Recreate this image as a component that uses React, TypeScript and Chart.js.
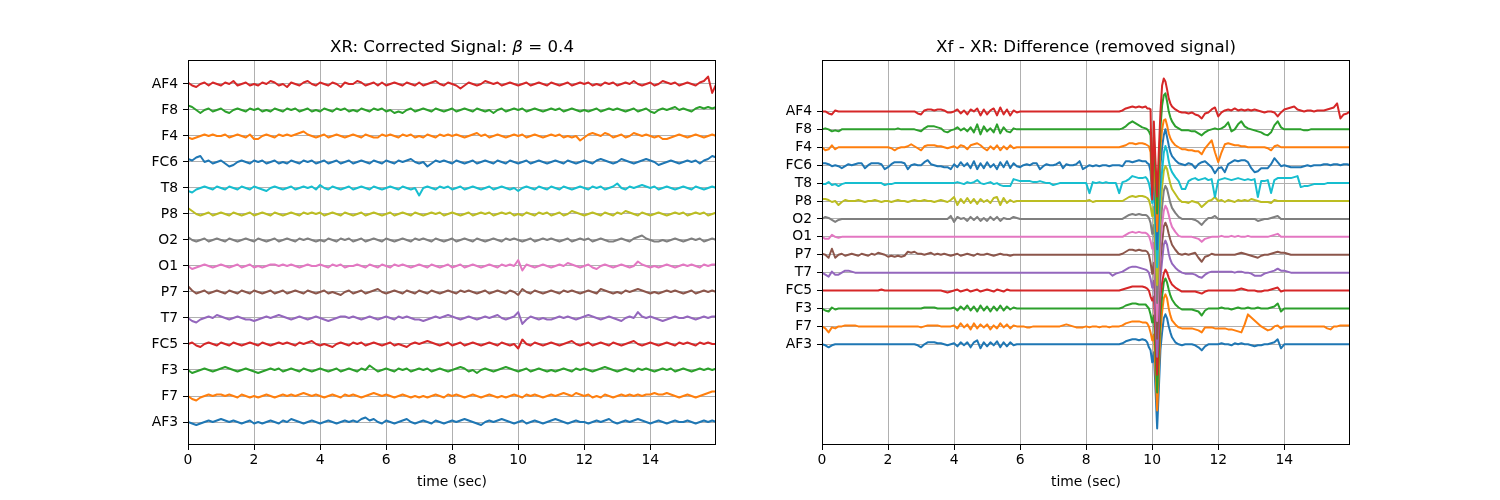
import React, { useEffect, useRef } from 'react';
import { Chart, registerables } from 'chart.js';

Chart.register(...registerables);

const FONT = '"DejaVu Sans"';
const CHANNELS = ['AF3', 'F7', 'F3', 'FC5', 'T7', 'P7', 'O1', 'O2', 'P8', 'T8', 'FC6', 'F4', 'F8', 'AF4'];
const COLORS = ['#1f77b4', '#ff7f0e', '#2ca02c', '#d62728', '#9467bd', '#8c564b', '#e377c2', '#7f7f7f', '#bcbd22', '#17becf', '#1f77b4', '#ff7f0e', '#2ca02c', '#d62728'];
const X_TICKS = [0, 2, 4, 6, 8, 10, 12, 14];
const X_LABEL = 'time (sec)';
const LEFT_TITLE = [
  { text: 'XR: Corrected Signal: ', italic: false },
  { text: 'β', italic: true },
  { text: ' = 0.4', italic: false },
];
const RIGHT_TITLE = [{ text: 'Xf - XR: Difference (removed signal)', italic: false }];

// ---------- Left panel: corrected signal, one sample every 0.125 s ----------
const LEFT_STEP = 0.125;
const L_AF3 = [
  0, -1, -2, -1, 0, 1, 0, 1,
  2, 1, 0, 1, 0, -1, 0, 1,
  -1, 0, -1, 0, 1, 0, -1, 1,
  0, 2, 1, 0, -1, 0, 1, 0,
  -1, 0, 1, 0, -1, 0, 1, 0,
  1, 0, 2, 3, 1, 2, 0, -1,
  1, 0, -1, 0, 1, 2, 0, -1,
  0, 1, 0, -1, 1, 0, -1, 0,
  1, 0, 1, 2, 1, 0, -1, -2,
  0, 1, 0, 1, 2, 1, 0, -1,
  0, 1, -1, 0, 1, 0, -1, 0,
  1, 2, 1, 0, -1, 0, 1, 0,
  0, -1, 0, 1, 0, 1, 2, 0,
  -1, 0, 1, 0, 1, 2, 1, 0,
  -1, 0, 1, 0, -1, 0, 1, 0,
  0, 1, 0, -1, 0, 1, 0, 1,
  0,
];
const L_F7 = [
  0, -2, -3, -1, 0, 1, 0, 1,
  1, 0, 1, 0, -1, 1, 0, -1,
  0, -1, 0, 1, 0, -1, 0, 1,
  0, 1, 0, 1, 2, 1, 0, 1,
  0, -1, 0, 1, 0, -1, 1, 0,
  1, 0, -1, 0, 1, 2, 1, 0,
  1, 0, -1, 0, 1, 0, -1, 0,
  -1, 0, -1, 0, 1, 0, -1, 1,
  0, 1, 0, -1, 0, 1, 0, -1,
  0, 1, 0, -1, 0, -1, 0, 1,
  0, -1, 1, 0, 1, 0, -1, 0,
  1, 0, 1, 2, 1, 0, 2, 1,
  0, 1, -1, 0, -1, 1, 0, -1,
  0, 1, 0, 1, 0, 1, 0, 1,
  1, 2, 1, 1, 2, 1, 0, -1,
  0, 1, 0, -1, 0, 1, 2, 3,
  3,
];
const L_F3 = [
  0, -2, -1, 0, 1, 0, -1, 0,
  1, 2, 1, 0, -1, 0, 1, 0,
  -1, -2, -1, 0, 1, 0, 1, -1,
  0, 1, 0, -1, 1, 0, -1, 0,
  1, 0, -1, 0, 1, -1, 0, 1,
  0, -1, 1, 0, 3, 1, -1, 0,
  1, 0, -1, 1, 0, 1, -1, 0,
  1, 0, 1, -1, 0, 1, 0, -1,
  0, 1, 2, 1, -1, 0, -2, 0,
  1, 0, -1, 0, 1, 2, 1, 0,
  -1, 0, 1, -1, 0, 1, 0, -1,
  0, -1, 0, 1, 0, -1, 1, 0,
  1, 0, -1, 0, 1, 2, 1, 0,
  -1, 0, 1, 0, -1, 1, 0, 1,
  0, -1, 0, 1, 0, 1, -1, 0,
  1, 0, -1, 0, 1, 0, 1, 0,
  1,
];
const L_FC5 = [
  0, 1, -1, -2, 0, 1, 0, -1,
  1, 0, -1, 1, 0, -1, 0, 1,
  0, -1, 1, 0, -1, 0, 1, 0,
  1, 0, -1, 1, 0, 1, 2, 0,
  -1, 0, -1, -2, 0, 1, 0, -1,
  1, 0, 1, -1, 0, 1, 0, -1,
  0, 1, -1, 0, -1, -2, 0, 1,
  0, 1, 2, 1, 0, -1, 0, 1,
  -1, 0, 1, -1, 0, 1, 0, -1,
  0, 1, 0, -1, 1, 0, -1, 0,
  -3, 3, 0, -1, 1, 0, -1, 0,
  1, 0, -1, 0, 1, 2, 0, -1,
  0, 1, -1, 0, 1, 0, -1, 1,
  0, -1, 0, 1, 2, 0, -1, 0,
  1, 0, -1, 0, 1, 0, -1, 1,
  0, 1, 0, -1, 1, 0, 1, 0,
  0,
];
const L_T7 = [
  0, -2, -3, -1, 0, 1, 0, 2,
  1, 0, -1, 0, 1, 0, -1, -1,
  -2, -1, 0, 1, 0, 1, 2, 1,
  0, -1, 0, 1, 0, -1, 0, 1,
  0, -1, -2, -1, 0, 1, 1, 0,
  1, 0, -1, 0, 1, 0, -1, 0,
  1, 0, -1, 1, 0, 1, 0, -1,
  -1, -2, -1, 0, 1, 0, 1, 2,
  1, 0, -1, 0, 1, 0, -1, 0,
  1, 0, 1, 2, 0, -1, 0, 1,
  4, -4, -1, 1, 0, -1, 0, -1,
  -1, 0, 1, 0, 1, 0, -1, 0,
  1, 2, 1, 0, -1, 0, 1, 0,
  -1, -2, 0, 1, 0, 4, 1, 0,
  1, 0, -1, -2, -1, 0, 1, 0,
  0, 1, 0, -1, 0, 1, 0, 1,
  1,
];
const L_P7 = [
  4, 1, -1, 0, 1, -1, 0, 1,
  0, -1, 1, 0, -1, 1, 0, -1,
  1, 0, -1, 0, 1, -1, 0, 1,
  -1, 0, 1, 0, -1, 1, 0, -1,
  0, 1, -1, 0, -1, -2, 0, 1,
  -1, 0, 1, -1, 0, 1, 2, 0,
  -1, 0, 1, 0, -1, 1, 0, -1,
  1, 0, -1, 1, 0, -1, 0, 1,
  0, -1, 1, 0, 1, 0, -1, 0,
  1, -1, 0, 1, 0, -1, 1, 0,
  -2, 2, 0, -1, 1, 0, -1, 0,
  1, 0, -1, 1, 0, 1, 0, -1,
  0, 1, 0, -1, 2, 1, 0, -1,
  0, -1, 1, 0, 1, 2, 1, 0,
  -1, 0, -1, 0, 1, 0, 1, 0,
  -1, 0, 1, -1, 0, 1, 0, 1,
  0,
];
const L_O1 = [
  0, -2, -1, 0, 1, 0, -1, 0,
  1, 0, -1, 0, 1, -1, 0, 1,
  -1, 0, -1, 0, 1, 1, 0, 1,
  0, 1, 0, -1, 0, 1, 0, 0,
  1, 0, -1, 1, 0, 1, -1, 0,
  0, 1, 0, -1, 1, 0, -1, 1,
  0, -1, 1, 0, 1, 0, -1, 0,
  1, 0, -1, 1, 0, -1, 0, 1,
  -1, 0, 1, -1, 0, 1, 0, -1,
  0, 1, 0, -1, 1, 0, 1, 0,
  4, -3, 1, 0, -1, 0, 1, 0,
  -1, 0, 1, 0, 2, 1, 0, -1,
  0, 1, -1, -2, 0, 1, 0, -1,
  0, 1, 0, -1, 0, 3, 1, 0,
  -1, 0, -1, 0, 1, 0, -1, 0,
  1, 0, 1, 0, -1, 1, 0, 1,
  1,
];
const L_O2 = [
  2, 0, -1, 0, 1, -1, 0, 1,
  0, -1, 1, 0, -1, 0, 1, 0,
  -1, 1, 0, -1, 0, 1, -1, 0,
  1, 0, -1, 1, 0, 1, 0, -1,
  0, -1, 1, 0, -1, 1, 0, 1,
  -1, 0, 1, -1, 0, 1, 0, -1,
  1, 0, -1, 0, 1, 0, -1, 1,
  0, 1, 0, -1, 1, 0, -1, 0,
  1, -1, 0, 1, 0, -1, 1, 0,
  -1, 0, 1, 0, -1, 1, 0, 1,
  0, -1, 0, 1, -1, 0, 1, 0,
  1, 0, -1, 0, 1, -1, 0, 1,
  0, 1, -1, 0, 1, 0, -1, -1,
  0, 1, 0, -1, 1, 2, 3, 1,
  0, -1, -1, 0, -1, 0, 1, 0,
  -1, 0, 1, 0, 1, -1, 0, 1,
  0,
];
const L_P8 = [
  4, 2, 0, -1, 0, 1, -1, 0,
  1, 0, -1, 1, 0, -1, 0, 1,
  -1, 0, 1, 0, -1, 1, 0, -1,
  0, 1, 0, -1, 1, 0, 1, 0,
  1, -1, 0, 1, 0, -1, 1, 0,
  -1, 0, 1, -1, 0, 1, 0, -1,
  0, 1, -1, 0, 1, 0, -1, 1,
  0, -1, 0, 1, 0, 1, -1, 0,
  1, 0, -1, 0, 1, -1, 0, 1,
  0, 1, -1, 0, 1, 0, 1, -1,
  0, -1, 1, 0, -1, 1, 0, 1,
  -1, 0, 1, -1, 0, 2, 1, 0,
  -1, 0, 1, 0, -1, 1, 0, -1,
  1, 0, 2, 1, 0, -1, 1, 0,
  -1, 0, 1, 0, -1, 0, 1, 0,
  1, -1, 0, 1, 0, 1, -1, 0,
  1,
];
const L_T8 = [
  -2, -3, -1, 0, 1, 0, -1, 1,
  0, -1, 1, 0, -1, 1, 0, -1,
  1, 0, -1, -2, 0, 1, 0, -1,
  0, 1, -1, 0, 1, 0, 1, -1,
  2, 0, -1, 1, 0, -1, 0, 1,
  -1, 0, 1, 0, -1, 1, 0, -1,
  0, 1, 0, -1, 1, 0, -1, 0,
  -5, 0, 1, 0, -1, 1, 0, 1,
  -1, 0, 1, -1, 0, 1, 0, -1,
  0, 1, -1, 0, 1, 0, -1, 0,
  -2, 0, 1, 0, -1, 1, 0, -1,
  1, 0, -1, 1, 0, -1, 0, 1,
  0, -1, 1, 0, 1, -1, 0, 1,
  3, 0, -1, 1, 0, 1, 2, 1,
  0, 1, -1, 0, 1, 0, -1, 0,
  1, 0, -1, 1, 0, -1, 0, 1,
  0,
];
const L_FC6 = [
  2, 1, 3, 4, 0, 1, -1, 0,
  1, -1, -3, -2, 0, 1, 0, -1,
  1, 0, 1, -1, 0, 1, -1, 0,
  -1, 1, 0, -1, 1, 0, 1, -1,
  0, 1, -1, 0, 1, -1, 0, 1,
  -1, 0, 1, 0, -1, 1, 0, -1,
  1, 0, -1, 1, 0, 1, 2, 0,
  -1, 0, -3, -1, 1, 0, 1, 0,
  -1, 1, 0, -1, 0, 1, -1, 0,
  1, 0, -1, 1, 0, -1, 1, 0,
  -1, 0, 1, -1, 0, 1, 0, -1,
  0, 1, 0, -1, 1, 0, -1, 0,
  1, 0, -1, 1, 2, 1, 0, -1,
  0, 2, 1, 0, -1, 0, 1, 2,
  1, 0, -2, -1, 0, 1, 0, -1,
  0, 1, 0, 1, -1, 1, 2, 4,
  3,
];
const L_F4 = [
  -1, -2, -1, 0, 1, 0, 1, 0,
  0, 1, -1, 0, 1, 0, -1, 1,
  -2, -2, 0, 1, 0, -1, 1, 0,
  1, 0, 1, 2, 3, 1, 0, -1,
  0, 1, -1, 0, 1, 0, -1, 0,
  1, 0, -1, 1, 0, -1, -1, 1,
  0, 1, 0, -1, 1, 0, 1, -1,
  0, -1, 1, 0, -1, 1, 0, 1,
  0, 1, 0, -1, 0, 1, 2, 0,
  1, -1, 0, 1, 0, -1, 0, 1,
  0, 1, -1, 0, 1, 0, -1, 0,
  1, 0, 1, -1, 0, -1, 0, -3,
  -1, 1, 2, 1, 0, 2, 1, -1,
  0, 1, -1, 0, 2, 1, 0, 1,
  0, -1, 0, -2, -2, -1, 0, 1,
  0, -1, 0, 1, 0, -1, 0, 1,
  0,
];
const L_F8 = [
  3, 2, 0, -2, 0, 1, -1, 0,
  1, -1, -2, 0, 1, 0, -1, 1,
  0, 1, -1, 0, -1, 1, 0, -1,
  1, 0, 1, -1, 0, 1, -1, 0,
  -1, 1, 0, -1, 1, 0, 1, -1,
  0, -1, 1, 0, -1, 1, 0, 1,
  -1, 0, -2, -1, -2, 0, 1, -1,
  0, 1, 0, -1, 1, 0, -1, 0,
  1, -1, 0, 1, 0, -1, 1, 0,
  -1, 0, -2, 0, 1, -1, 0, 1,
  0, 1, -1, 0, 1, 0, -1, 0,
  1, 0, 1, -1, 0, 1, 0, -1,
  0, -1, 0, 1, -1, 0, 1, 0,
  1, 0, -1, 0, 1, -1, 0, 1,
  -1, -2, 0, 1, 0, 1, 2, 0,
  1, 0, -1, 1, 2, 1, 2, 1,
  2,
];
const L_AF4 = [
  1, -1, -2, 0, 1, -1, 1, 0,
  -1, 1, 0, 2, -1, 0, 1, -1,
  0, -1, 1, 0, 2, 1, -1, 0,
  -2, 1, 0, -1, 1, 2, 0, -1,
  1, 0, -1, 1, 0, -2, 1, 0,
  0, 2, 1, -1, 0, 1, -1, 1,
  -1, 0, 1, 0, -1, 1, 0, -1,
  1, -1, 0, 1, 2, 0, -1, 1,
  0, -1, -3, -1, 1, 0, -1, 0,
  2, 1, 0, 1, -1, 0, 1, 0,
  -1, 0, 1, -1, 0, 1, 0, -1,
  1, 0, -1, 0, 1, -1, 0, 1,
  0, 1, -1, 0, -1, 1, 0, 1,
  -1, 0, 1, 0, 2, 0, -1, 0,
  1, -1, 0, 2, 1, 0, 1, -1,
  0, 1, 0, -1, 1, 2, 5, -6,
  0,
];
const LEFT_VALUES = [L_AF3, L_F7, L_F3, L_FC5, L_T7, L_P7, L_O1, L_O2, L_P8, L_T8, L_FC6, L_F4, L_F8, L_AF4];

// ---------- Right panel: removed signal ----------
// sample times: 0.1 s up to 9.8 s, 0.05 s through the artefact (9.85-10.6 s), then 0.1 s to 16 s
const R_AF4 = [
  0, 0, -2, -3, 1, 0, 0, 0, 0, 0,
  0, 0, 0, 0, 0, 0, 0, 0, 0, 0,
  0, 0, 0, 0, 0, 0, 0, 0, 0, -2,
  -3, 1, 2, 2, 1, 2, 2, 1, -1, -1,
  0, 2, -2, 1, -3, 2, 0, 3, -4, 2,
  -3, 1, 3, -4, 4, -3, 2, -4, 1, -1,
  0, 0, 0, 0, 0, 0, 0, 0, 0, 0,
  0, 0, 0, 0, 0, 0, 0, 0, 0, 0,
  0, 0, 0, 0, 0, 0, 0, 0, 0, 0,
  0, 1, 3, 4, 5, 4, 5, 4, 5,
  3, 3, 2, -88, -10, -50, -85, -40,
  0, 26, 33, 30, 22, 13, 8, 5,
  2, 0, -1,
  -1, -2, -1, -3, -4, -7, -2, -1, 2, 4,
  -5, -1, 1, 2, 1, 3, 1, 2, 1, 2,
  1, 2, 1, 0, -1, 0, 0, -1, -5, -1,
  2, 3, 4, 5, 2, 1, 0, 1, 1, 0,
  1, 1, 1, 2, 3, 4, 8, -7, -3, -2,
  0,
];
const R_F8 = [
  0, 1, 0, -2, -1, -2, 0, 0, 0, 0,
  0, 0, 0, 0, 0, 0, 0, 0, 0, 0,
  0, 0, 0, 1, 0, 0, 0, 0, 0, -1,
  -2, 1, 3, 3, 3, 2, 1, -2, -3, -1,
  0, 2, -1, 1, -2, 2, -3, 5, -5, 3,
  -2, 1, -3, 5, -4, 2, -2, -3, 1, 0,
  0, 0, 0, 0, 0, 0, 0, 0, 0, 0,
  0, 0, 0, 0, 0, 0, 0, 0, 0, 0,
  0, 0, 0, 0, 0, 0, 0, 0, 0, 0,
  0, 1, 3, 6, 8, 6, 4, 2, 1,
  0, -2, -6, -60, -8, -45, -84, -40,
  2, 24, 34, 36, 28, 18, 12, 8,
  3, 1, -1,
  -1, -1, -2, -2, -4, -6, -3, -1, 0, 1,
  0, 1, 3, 7, -2, 0, 5, 8, 3, 1,
  0, -1, -2, -3, -5, -6, -3, 4, 8, 2,
  0, 0, 0, 0, 0, 0, -1, -1, 0, 0,
  0, 0, 0, 0, 0, 0, 0, 0, 0, 0,
  0,
];
const R_F4 = [
  0, -3, -2, 2, -2, 0, 0, 0, 0, 0,
  0, 0, 0, 0, 0, 0, 0, 0, 0, 0,
  0, -1, -3, -1, 0, 0, 1, 3, 1, -1,
  -3, 1, 2, 2, 2, 1, 1, 0, -1, 0,
  1, -1, 2, 1, -2, 2, 3, 4, 2, -1,
  -3, 1, -2, 2, -3, 1, -2, 2, -1, 0,
  0, 0, 0, 0, 0, 0, 0, 0, 0, 0,
  0, 0, 0, 0, 0, 0, 0, 0, 0, 0,
  0, 0, 0, 0, 0, 0, 0, 0, 0, 0,
  0, 1, 2, 4, 4, 3, 4, 4, 3,
  2, 1, -5, -45, -6, -45, -84, -40,
  0, 18, 27, 28, 22, 14, 9, 6,
  2, 0, -2,
  -2, -3, -3, -4, -4, -7, -1, 3, 7, -5,
  -15, -5, 3, 4, 3, 2, 2, 1, 1, 0,
  0, 0, 0, 0, 0, -1, -3, 1, 2, 0,
  0, 0, 0, 0, 0, 0, 0, 0, 0, 0,
  0, 0, 0, 0, 0, 0, 0, 0, 0, 0,
  0,
];
const R_FC6 = [
  2, 2, 1, -1, 0, -1, -3, -1, 1, 0,
  1, 2, 2, -3, 0, 2, 2, 2, 1, -4,
  -2, 1, 3, 3, 3, 2, -4, 0, 1, 0,
  0, 3, 5, 1, 0, -1, -1, -2, -2, -4,
  1, -2, 3, -1, 2, -3, 4, -4, 2, -3,
  3, -2, 1, -4, 3, -2, 4, -3, 2, -1,
  -2, 0, 1, 0, 2, 2, -4, -1, 1, 0,
  0, 1, 3, -3, 1, 0, 0, 1, 4, -4,
  -2, 0, -1, 0, -1, 0, 0, -1, 0, 0,
  0, -1, 4, 4, 3, 4, 5, 4, 4,
  2, 1, -6, -30, -6, -45, -84, -40,
  0, 18, 30, 36, 28, 20, 13, 9,
  5, 2, 1,
  0, 2, 1, -3, 1, 3, 4, 1, -2, -8,
  -3, -2, -7, 1, 3, 5, 4, 5, 5, 3,
  -3, -7, -6, -3, -3, -3, 1, 7, 3, -1,
  0, -1, -2, -2, -2, -2, -1, 0, -1, 0,
  0, 0, 1, 1, 0, 1, 1, 0, 1, 1,
  0,
];
const R_T8 = [
  -1, -1, 1, -2, -1, -3, -1, 0, 0, 0,
  0, 0, 0, 0, 0, 0, 0, 0, 0, -2,
  -1, -1, 0, 0, 0, 0, 0, 0, 0, 0,
  0, 0, 0, 0, 0, 0, 0, 0, 0, 0,
  0, 1, 0, -1, 1, 0, 1, 3, 0, -1,
  0, 1, -1, 0, -2, -3, -3, -3, 4, 3,
  2, 2, 2, 2, 1, 1, 2, 1, 0, 0,
  -2, -1, 0, 0, 0, 0, 0, 0, 0, 0,
  0, -10, 1, 0, 1, 0, 1, 0, 0, 0,
  -10, 1, 2, 4, 7, 6, 5, 5, 6,
  4, 0, -8, -20, -6, -45, -84, -45,
  -5, 12, 30, 37, 32, 22, 15, 11,
  6, 2, -6,
  -6, 2, 4, 5, 3, 4, 5, 3, 4, -14,
  3, 4, 5, 4, 3, 4, 5, 4, 3, 4,
  3, 4, -14, 2, 2, 3, -10, 3, 5, 5,
  5, 5, 5, 6, 7, -4, -3, -3, -2, -1,
  -1, -1, -1, 0, 0, 0, 0, 0, 0, 0,
  0,
];
const R_P8 = [
  2, 2, 1, -1, 0, -4, -1, 1, 0, 0,
  0, 1, 0, -1, 0, 0, 1, 0, -1, 0,
  0, -1, 0, 1, 0, 0, -1, 0, 1, 0,
  0, 1, 0, 0, -1, 0, 1, 0, -1, 1,
  4, -4, 2, -2, 3, -2, 2, -3, 2, -1,
  1, -2, 3, 4, -4, 3, -2, 1, -1, 0,
  0, 0, 0, 0, 0, 0, 0, 0, 0, 0,
  0, 0, 0, 0, 0, 0, 0, 0, 0, 0,
  0, 1, -1, 0, 0, 0, 0, 0, 0, 0,
  0, 0, 2, 4, 5, 4, 5, 5, 4,
  3, 1, -5, -15, -6, -45, -84, -45,
  -5, 14, 30, 35, 32, 24, 17, 12,
  7, 2, -1,
  -1, -2, 0, -1, -2, -6, -3, 0, 1, 4,
  0, 1, -1, 1, 0, -1, 1, 0, 1, 0,
  2, 1, 0, -1, -1, -1, -2, 1, 0, 0,
  0, 0, 0, 0, 0, 0, 0, 0, 0, 0,
  0, 0, 0, 0, 0, 0, 0, 0, 0, 0,
  0,
];
const R_O2 = [
  0, 2, 1, -1, -3, -1, 0, 0, 0, 0,
  0, 0, 0, 0, 0, 0, 0, 0, 0, 0,
  0, 0, 0, 0, 0, 0, 0, 0, 0, 0,
  0, 0, 0, 0, 0, 0, 0, 0, 0, 3,
  -3, 2, 0, 1, -2, 2, -1, 2, -2, 1,
  -2, 2, -1, 2, -2, 1, 0, 0, 2, 1,
  0, 0, 0, 0, 0, 0, 0, 0, 0, 0,
  0, 0, 0, 0, 0, 0, 0, 0, 0, 0,
  0, 0, 0, 0, 0, 0, 0, 0, 0, 0,
  0, 0, 2, 4, 5, 4, 5, 4, 4,
  3, 1, -4, -15, -6, -45, -84, -45,
  -5, 12, 28, 33, 30, 23, 16, 11,
  6, 2, 0,
  0, 0, 0, -1, -3, -6, -2, 1, 1, 3,
  0, 0, 0, 0, 0, 0, 0, 0, 0, 0,
  0, 0, -2, -1, 0, 0, 1, 2, 3, 0,
  0, 0, 0, 0, 0, 0, 0, 0, 0, 0,
  0, 0, 0, 0, 0, 0, 0, 0, 0, 0,
  0,
];
const R_O1 = [
  0, -2, -2, 2, 0, -1, 0, 0, 0, 0,
  0, 0, 0, 0, 0, 0, 0, 0, 0, 0,
  0, 0, 0, 0, 0, 0, 0, 0, 0, 0,
  0, 0, 0, 0, 0, 0, 0, 0, 0, 0,
  0, 0, 0, 0, 0, 0, 0, 0, 0, 0,
  0, 0, 0, 0, 0, 0, 0, 0, 0, 0,
  0, 0, 0, 0, 0, 0, 0, 0, 0, 0,
  0, 0, 0, 0, 0, 0, 0, 0, 0, 0,
  0, 0, 0, 0, 0, 0, 0, 0, 0, 0,
  0, 0, 2, 4, 5, 4, 5, 4, 4,
  3, 1, -4, -12, -6, -45, -84, -45,
  -5, 12, 26, 31, 28, 22, 15, 10,
  5, 1, 0,
  0, 0, 0, -1, -2, -5, -2, -1, 0, 0,
  0, 1, 0, 0, 1, 0, 1, 0, 0, 1,
  0, 0, 0, 0, 0, 0, 1, 2, 3, 0,
  0, 0, 0, 0, 0, 0, 0, 0, 0, 0,
  0, 0, 0, 0, 0, 0, 0, 0, 0, 0,
  0,
];
const R_P7 = [
  1, 0, -3, 6, -3, 0, 1, -1, 0, 1,
  0, -1, 1, 0, -1, 1, 0, 2, 1, 0,
  -2, -1, -2, -1, -2, -1, 3, 2, 3, 1,
  1, 0, 1, 2, 0, 1, 0, 1, 0, -1,
  0, 1, -1, 0, 1, 0, -1, 1, 0, 0,
  1, 0, -1, 0, 1, 0, 0, -1, 0, 0,
  0, 0, 0, 0, 0, 0, 0, 0, 0, 0,
  0, 0, 0, 0, 0, 0, 0, 0, 0, 0,
  0, 0, 0, 0, 0, 0, 0, 0, 0, 0,
  0, 1, 3, 5, 5, 4, 5, 4, 4,
  3, 0, -8, -19, -8, -45, -84, -45,
  -5, 12, 28, 32, 28, 21, 15, 10,
  5, 1, 0,
  1, 0, 1, 2, -3, -7, -2, -1, 1, 0,
  0, 0, 0, 0, 0, 0, 1, 2, 1, 0,
  -1, -2, -3, -1, 0, 0, 1, 2, 3, 2,
  2, 1, 0, 0, 0, 0, 0, 0, 0, 0,
  0, 0, 0, 0, 0, 0, 0, 0, 0, 0,
  0,
];
const R_T7 = [
  0, -2, -4, 1, -2, -2, 0, 2, 2, 1,
  0, 0, 0, 0, 0, 0, 0, 0, 0, 0,
  0, 0, 0, 0, 0, 0, 0, 0, 0, 0,
  0, 0, 0, 0, 0, 0, 0, 0, 0, 0,
  0, 0, 0, 0, 0, 0, 0, 0, 0, 0,
  0, 0, 0, 0, 0, 0, 0, 0, 0, 0,
  0, 0, 0, 0, 0, 0, 0, 0, 0, 0,
  0, 0, 0, 0, 0, 0, 0, 0, 0, 0,
  0, 0, 0, 0, 0, 0, 0, 0, -3, -1,
  0, 1, 3, 5, 6, 6, 5, 4, 3,
  2, 0, -6, -15, -8, -45, -84, -45,
  -5, 12, 28, 32, 28, 19, 13, 9,
  5, 2, 0,
  -1, -1, -1, -2, -4, -5, -2, 0, 1, 1,
  1, 1, 1, 1, 1, 0, 1, 1, 0, 0,
  -1, -3, -3, -3, -1, 0, 1, 2, 4, 2,
  2, 1, 0, 0, 0, 0, 0, 0, 0, 0,
  0, 0, 0, 0, 0, 0, 0, 0, 0, 0,
  0,
];
const R_FC5 = [
  0, 0, 0, 0, 0, 0, 0, 0, 0, 0,
  0, 0, 0, 0, 0, 0, 0, 0, 1, 0,
  0, 0, 0, 0, 0, 0, 0, 0, 0, 0,
  0, 0, 0, 0, 0, 0, 0, -1, -2, -1,
  0, 1, -1, 0, 1, -1, 0, 1, -1, 0,
  1, 0, -1, 1, 0, -1, 1, 0, 0, 0,
  0, 0, 0, 0, 0, 0, 0, 0, 0, 0,
  0, 0, 0, 0, 0, 0, 0, 0, 0, 0,
  0, 0, 0, 0, 0, 0, 0, 0, 0, 0,
  0, 1, 2, 3, 4, 4, 4, 4, 3,
  2, 0, -6, -10, -6, -45, -84, -45,
  -6, 8, 17, 21, 18, 13, 9, 6,
  3, 1, -1,
  -1, -1, -1, -1, -2, -3, -1, 0, 0, 0,
  0, 0, 0, 0, 0, 0, 1, 2, 1, 0,
  0, 0, -1, -1, 0, 0, 1, 2, 3, -1,
  0, 0, 0, 0, 0, 0, 0, 0, 0, 0,
  0, 0, 0, 0, 0, 0, 0, 0, 0, 0,
  0,
];
const R_F3 = [
  0, -2, -3, 1, -1, 0, 0, 0, 0, 0,
  0, 0, 0, 0, 0, 0, 0, 0, 0, 0,
  0, 0, 0, 0, 0, 0, 0, 0, 0, 0,
  0, 1, 1, 1, 1, 0, 0, 0, 0, 0,
  1, -2, 2, -1, 3, -2, 2, -3, 3, -2,
  2, -3, 2, -2, 3, -2, 2, -1, 1, 0,
  0, 0, 0, 0, 0, 0, 0, 0, 0, 0,
  0, 0, 0, 0, 0, 0, 0, 0, 0, 0,
  0, 0, 0, 0, 0, 0, 0, 0, 0, 0,
  0, 1, 3, 4, 5, 5, 4, 4, 4,
  2, 0, -6, -14, -7, -45, -84, -45,
  -6, 12, 26, 30, 26, 19, 13, 9,
  4, 1, -1,
  -1, -1, -1, -2, -3, -7, -2, 0, 0, 0,
  0, 1, 0, 0, -1, 0, 1, 0, 0, 1,
  0, 0, 1, 0, 0, 0, 1, 2, 5, -3,
  0, 0, 0, 0, 0, 0, 0, 0, 0, 0,
  0, 0, 0, 0, 0, 0, 0, 0, 0, 0,
  0,
];
const R_F7 = [
  0, -2, -6, -1, -2, 0, 0, 1, 1, 1,
  1, 0, 0, 0, 0, 0, 0, 0, 0, 0,
  0, 0, 0, 0, 0, 0, 0, 0, 0, 0,
  -1, 0, 1, 1, 1, 1, 0, 0, 0, 0,
  1, -2, 3, -1, 2, -3, 3, -2, 2, -1,
  2, -3, 1, -2, 3, -1, 2, -2, 1, 0,
  0, 0, -1, -1, 0, 0, 0, 0, 0, 0,
  0, 0, 0, 1, 2, 1, 0, -1, -1, -1,
  0, -1, 0, 0, -1, 0, 0, -1, 0, 0,
  0, 1, 3, 4, 5, 5, 5, 4, 4,
  3, 0, -6, -14, -8, -45, -84, -45,
  -5, 14, 28, 32, 28, 18, 11, 6,
  2, -1, -2,
  -2, -2, -2, -3, -4, -6, -1, -1, -1, -2,
  -2, -2, -2, -3, -3, -4, -5, -6, 2, 12,
  9, 6, 3, 0, -2, -4, -3, 0, 1, -2,
  0, 0, 0, 0, 0, 0, 0, 0, 0, 0,
  0, 0, 0, -2, -3, 0, 0, 1, 1, 1,
  1,
];
const R_AF3 = [
  0, -1, -3, -1, 0, 0, 0, 0, 0, 0,
  0, 0, 0, 0, 0, 0, 0, 0, 0, 0,
  0, 0, 0, 0, 0, 0, 0, 0, 0, -1,
  -3, 0, 2, 2, 2, 1, 1, 0, -1, 0,
  1, -2, 2, -1, 2, -3, 2, 4, -4, 2,
  -2, 2, -1, 3, -3, 2, -2, 2, -1, 0,
  0, 0, 0, 0, 0, 0, 0, 0, 0, 0,
  0, 0, 0, 0, 0, 0, 0, 0, 0, 0,
  0, 0, 0, 0, 0, 0, 0, 0, 0, 0,
  0, 1, 3, 4, 5, 5, 4, 5, 4,
  2, -3, -6, -18, -8, -45, -84, -45,
  -5, 12, 26, 30, 26, 18, 12, 7,
  2, 0, -1,
  0, 0, 0, -1, -3, -6, -2, 0, 0, 0,
  0, 1, 0, 0, -1, 1, 0, 1, 0, 0,
  -1, -2, -1, -1, 0, 0, 1, 2, 5, -4,
  0, 0, 0, 0, 0, 0, 0, 0, 0, 0,
  0, 0, 0, 0, 0, 0, 0, 0, 0, 0,
  0,
];
const RIGHT_VALUES = [R_AF3, R_F7, R_F3, R_FC5, R_T7, R_P7, R_O1, R_O2, R_P8, R_T8, R_FC6, R_F4, R_F8, R_AF4];

function rightTimes(): number[] {
  const t: number[] = [];
  for (let k = 0; k <= 98; k++) t.push(k / 10);
  for (let k = 0; k < 16; k++) t.push(Math.round((9.85 + k * 0.05) * 100) / 100);
  for (let k = 0; k <= 53; k++) t.push(Math.round((10.7 + k / 10) * 100) / 100);
  return t;
}
const RIGHT_TIMES = rightTimes();
const LEFT_TIMES = L_AF3.map((_, k) => k * LEFT_STEP);

// channel offsets (in data units) and visible y ranges
const LEFT_SPACING = 17.5;
const LEFT_Y = [-15.48, 243.65];
const RIGHT_SPACING = 17.9;
const RIGHT_Y = [-100.6, 284.1];

type Part = { text: string; italic: boolean };

function framePlugin(parts: Part[]) {
  return {
    id: 'mplFrame',
    afterDraw(chart: any) {
      const { ctx, chartArea } = chart;
      ctx.save();
      const size = 16.67;
      const fonts = parts.map((p) => `${p.italic ? 'italic ' : ''}${size}px ${FONT}`);
      let total = 0;
      const widths = parts.map((p, i) => {
        ctx.font = fonts[i];
        const w = ctx.measureText(p.text).width;
        total += w;
        return w;
      });
      let x = (chartArea.left + chartArea.right) / 2 - total / 2;
      ctx.fillStyle = '#000';
      ctx.textAlign = 'left';
      ctx.textBaseline = 'alphabetic';
      parts.forEach((p, i) => {
        ctx.font = fonts[i];
        ctx.fillText(p.text, x, 52);
        x += widths[i];
      });
      ctx.strokeStyle = '#000';
      ctx.lineWidth = 1;
      const l = Math.round(chartArea.left) + 0.5;
      const t = Math.round(chartArea.top) + 0.5;
      const r = Math.round(chartArea.right) - 0.5;
      const b = Math.round(chartArea.bottom) - 0.5;
      ctx.strokeRect(l, t, r - l, b - t);
      ctx.restore();
    },
  };
}

function makeConfig(
  times: number[],
  values: number[][],
  spacing: number,
  yRange: number[],
  yWidth: number,
  padRight: number,
  title: Part[]
): any {
  const datasets = values.map((vals, i) => ({
    label: CHANNELS[i],
    data: times.map((t, k) => ({ x: t, y: i * spacing + (vals[k] ?? 0) })),
    borderColor: COLORS[i],
    backgroundColor: COLORS[i],
    borderWidth: 2,
    pointRadius: 0,
    tension: 0,
    fill: false,
    borderJoinStyle: 'round',
    order: CHANNELS.length - 1 - i,
  }));
  const tickFont = { family: FONT, size: 13.9 };
  const grid = { color: '#b0b0b0', lineWidth: 1, tickLength: 5, tickColor: '#000', tickWidth: 1, drawTicks: true };
  return {
    type: 'line',
    data: { datasets },
    options: {
      animation: false,
      responsive: false,
      devicePixelRatio: 1,
      events: [],
      layout: { padding: { left: 0, right: padRight, top: 60, bottom: 0 } },
      plugins: { legend: { display: false }, tooltip: { enabled: false }, title: { display: false } },
      scales: {
        x: {
          type: 'linear',
          min: 0,
          max: 15.99,
          afterBuildTicks: (s: any) => {
            s.ticks = X_TICKS.map((v) => ({ value: v }));
          },
          afterFit: (s: any) => {
            s.height = 55;
          },
          ticks: {
            callback: (v: number) => String(v),
            font: tickFont,
            color: '#000',
            padding: 2,
            maxRotation: 0,
            autoSkip: false,
          },
          grid,
          border: { display: false },
          title: {
            display: true,
            text: X_LABEL,
            color: '#000',
            font: tickFont,
            padding: { top: 0, bottom: 9 },
          },
        },
        y: {
          type: 'linear',
          min: yRange[0],
          max: yRange[1],
          afterBuildTicks: (s: any) => {
            s.ticks = CHANNELS.map((_, i) => ({ value: i * spacing }));
          },
          afterFit: (s: any) => {
            s.width = yWidth;
          },
          ticks: {
            callback: (_v: number, i: number) => CHANNELS[i],
            font: tickFont,
            color: '#000',
            padding: 5,
            autoSkip: false,
          },
          grid,
          border: { display: false },
        },
      },
    },
    plugins: [framePlugin(title)],
  };
}

export default function App() {
  const leftRef = useRef<HTMLCanvasElement>(null);
  const rightRef = useRef<HTMLCanvasElement>(null);

  useEffect(() => {
    const left = new Chart(
      leftRef.current as HTMLCanvasElement,
      makeConfig(LEFT_TIMES, LEFT_VALUES, LEFT_SPACING, LEFT_Y, 188, 34, LEFT_TITLE)
    );
    const right = new Chart(
      rightRef.current as HTMLCanvasElement,
      makeConfig(RIGHT_TIMES, RIGHT_VALUES, RIGHT_SPACING, RIGHT_Y, 72, 150, RIGHT_TITLE)
    );
    return () => {
      left.destroy();
      right.destroy();
    };
  }, []);

  return (
    <div style={{ position: 'absolute', left: 0, top: 0, width: 1500, height: 500, background: '#fff', overflow: 'hidden' }}>
      <canvas ref={leftRef} width={750} height={500} style={{ position: 'absolute', left: 0, top: 0, width: 750, height: 500 }} />
      <canvas ref={rightRef} width={750} height={500} style={{ position: 'absolute', left: 750, top: 0, width: 750, height: 500 }} />
    </div>
  );
}
